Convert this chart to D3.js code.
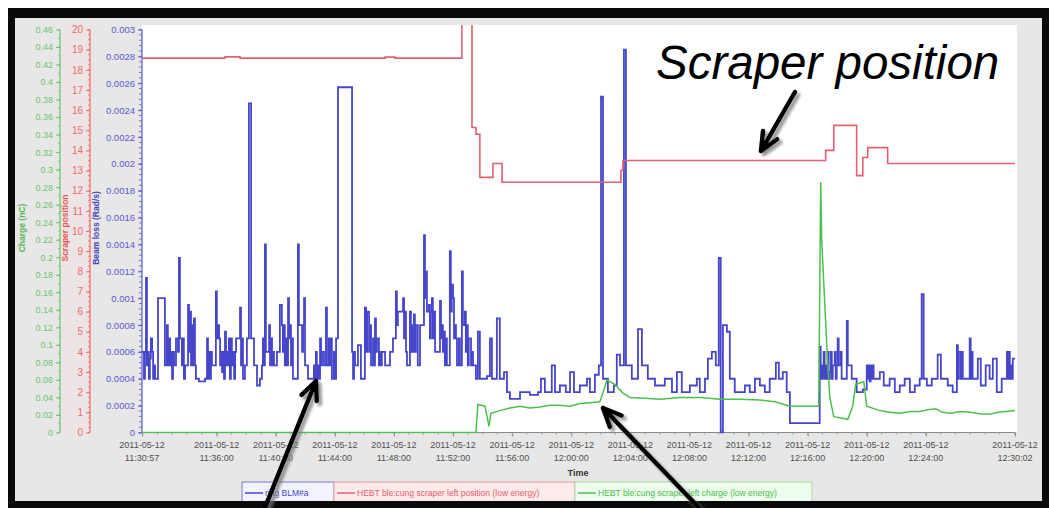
<!DOCTYPE html>
<html><head><meta charset="utf-8">
<script src="https://cdn.jsdelivr.net/npm/d3@7/dist/d3.min.js"></script>
<style>
body{margin:0;background:#fff}
svg{display:block;font-family:"Liberation Sans",Arial,sans-serif}
</style>
</head><body>
<svg id="chart" width="1049" height="508"></svg>
<script>
// ---------- DATA ----------
const startTime = "2011-05-12T11:30:57";
const endTime   = "2011-05-12T12:30:02";

// Beam loss (Rad/s): [seconds since start, value]
const beamLoss = [[0,0.0006],[8,0.0004],[12,0.0006],[16,0.00115],[20,0.0005],[24,0.0006],[28,0.0004],[32,0.00055],[36,0.0007],[41,0.0006],[45,0.0004],[49,0.0005],[53,0.0004],
[65,0.001],[93,0.0005],[101,0.0008],[105,0.0005],[109,0.0007],[114,0.0005],[118,0.0006],[122,0.0004],[126,0.0006],[130,0.0005],[138,0.0007],[146,0.0006],[150,0.0013],[154,0.0007],[162,0.0005],[166,0.0007],[170,0.0004],[175,0.0005],
[187,0.00095],[191,0.0006],[195,0.0009],[199,0.0005],[203,0.0008],[207,0.0005],[211,0.00085],[215,0.0005],[219,0.0004],[231,0.00038],[256,0.0004],[264,0.0007],[268,0.0004],[272,0.0006],[276,0.0004],[280,0.0006],[284,0.0005],
[300,0.00105],[304,0.0007],[308,0.0008],[313,0.0007],[317,0.0005],[321,0.0006],[325,0.00045],[329,0.0006],[333,0.0004],[337,0.00075],[341,0.0005],[345,0.0006],[349,0.0005],[353,0.0007],[357,0.0004],[361,0.0007],[365,0.0005],[369,0.0006],[374,0.0004],[378,0.0006],[382,0.0007],[398,0.00093],[402,0.0005],[406,0.0007],[410,0.0004],[418,0.0005],[426,0.0007],[434,0.00245],[443,0.0007],[455,0.0005],[467,0.00035],[479,0.0004],[487,0.0005],[491,0.0007],[495,0.0005],
[499,0.0014],[503,0.0006],[512,0.0006],[516,0.0008],[520,0.0005],[524,0.0007],[528,0.0005],[532,0.0006],[536,0.0005],[548,0.0006],[560,0.00095],[568,0.0008],[572,0.0006],[576,0.0008],[580,0.0005],[584,0.0007],[588,0.0005],[593,0.001],[597,0.0007],[601,0.0008],[605,0.0005],[609,0.0007],[613,0.0004],[633,0.0014],[637,0.0008],[646,0.0008],[650,0.0006],[654,0.0008],[658,0.001],[662,0.0005],[666,0.0005],[674,0.0004],[690,0.0004],[698,0.0005],[702,0.0004],[706,0.0006],[710,0.0004],[714,0.0005],[719,0.0004],[723,0.0007],[727,0.0005],[731,0.0006],[735,0.0006],[739,0.0005],[747,0.00093],[751,0.0005],[755,0.0005],[759,0.0007],[763,0.0005],[767,0.0007],[771,0.0004],[775,0.0004],[779,0.0006],[784,0.0004],[788,0.0007],
[796,0.00257],[853,0.0006],[857,0.0004],[861,0.0006],[865,0.0005],[877,0.00065],[889,0.0004],[905,0.00093],[910,0.0006],[914,0.0009],[918,0.0009],[922,0.0006],[926,0.0008],[930,0.0005],[934,0.0005],[938,0.0007],[942,0.0005],[946,0.00085],[950,0.0006],[954,0.0007],[958,0.0007],[962,0.0005],[966,0.0006],[970,0.0005],[974,0.0006],[987,0.0005],
[1007,0.0006],[1019,0.0007],[1031,0.00105],[1035,0.0008],[1039,0.0009],[1047,0.0009],[1060,0.001],[1064,0.0007],[1068,0.0009],[1072,0.0006],[1076,0.0005],[1088,0.0009],[1092,0.0006],[1096,0.0008],[1100,0.0006],[1104,0.00088],[1108,0.0006],[1112,0.0008],[1120,0.0005],[1129,0.0008],[1145,0.00147],[1149,0.001],[1153,0.0012],[1157,0.0009],[1165,0.00095],[1169,0.0007],[1173,0.0009],[1177,0.001],[1181,0.0007],[1185,0.0009],[1190,0.0006],
[1210,0.00098],[1214,0.0007],[1218,0.0008],[1222,0.0006],[1226,0.00075],[1230,0.0005],[1234,0.0007],[1238,0.0005],[1242,0.0005],[1250,0.00135],[1254,0.0009],[1258,0.0011],[1263,0.001],[1267,0.0007],[1271,0.0008],[1275,0.0007],[1279,0.0005],[1283,0.0005],[1287,0.0007],[1291,0.0005],[1299,0.0012],[1303,0.0008],[1311,0.0009],[1315,0.0006],[1319,0.0008],[1323,0.0005],[1327,0.0007],[1332,0.0007],[1336,0.0005],[1340,0.0006],[1344,0.0005],[1356,0.0004],[1364,0.00075],[1372,0.0004],
[1401,0.00042],[1413,0.0007],[1421,0.0004],[1441,0.00085],[1453,0.0004],[1470,0.00045],[1482,0.0003],[1494,0.00025],[1535,0.0003],[1575,0.00028],[1608,0.0003],[1620,0.0004],[1636,0.0003],[1664,0.0005],[1677,0.0003],[1697,0.00035],[1721,0.0003],[1738,0.00045],[1754,0.0003],[1778,0.00035],[1807,0.0004],[1819,0.0003],[1839,0.00043],[1855,0.0005],[1864,0.0025],[1872,0.0004],[1892,0.0003],[1916,0.00035],[1928,0.00058],[1941,0.0005],[1957,0.00285],[1965,0.0005],[1989,0.0004],
[2014,0.00077],[2030,0.0005],[2054,0.0004],[2083,0.00035],[2123,0.0004],[2152,0.0003],[2172,0.00045],[2192,0.0003],[2225,0.00035],[2253,0.0004],[2265,0.0003],[2286,0.0004],[2298,0.00055],[2314,0.0006],[2330,0.0005],[2342,0.0013],[2350,0],[2359,0.0008],[2375,0.00075],[2387,0.0004],[2407,0.0003],[2448,0.00035],[2468,0.0003],[2489,0.0004],[2509,0.00035],[2529,0.0003],[2549,0.0004],[2574,0.00052],[2586,0.0004],[2602,0.00045],[2618,0.0003],[2631,0.00007],
[2752,0.00064],[2756,0.0004],[2760,0.0005],[2764,0.0004],[2768,0.0006],[2772,0.0004],[2776,0.0005],[2780,0.0004],[2784,0.0006],[2788,0.0004],[2793,0.00045],[2797,0.0006],[2801,0.0004],[2805,0.0005],[2809,0.0005],[2813,0.0006],[2817,0.0004],[2821,0.0005],[2825,0.0007],[2829,0.0005],[2833,0.0005],[2837,0.0006],[2841,0.0004],[2849,0.0004],[2862,0.00083],[2866,0.0005],[2870,0.0005],[2882,0.0004],[2902,0.0003],[2927,0.00032],[2943,0.0005],[2947,0.0004],[2951,0.0005],[2955,0.00038],[2959,0.0005],[2963,0.0004],[2967,0.0005],[2971,0.0004],[2979,0.0004],[2996,0.00045],[3012,0.00035],[3036,0.0004],[3057,0.0003],[3077,0.00035],[3097,0.0004],[3118,0.0003],[3138,0.00035],[3158,0.0004],[3166,0.00103],[3174,0.0004],[3187,0.00035],[3207,0.0004],[3231,0.00058],[3244,0.0004],[3272,0.00035],[3292,0.0003],
[3309,0.00065],[3313,0.0004],[3317,0.0006],[3321,0.0006],[3325,0.0004],[3329,0.0006],[3333,0.0004],[3349,0.0004],[3361,0.0007],[3365,0.0004],[3369,0.0006],[3373,0.0004],[3394,0.00055],[3406,0.00035],[3426,0.0005],[3442,0.0004],[3455,0.00055],[3471,0.0003],[3491,0.0004],[3512,0.0006],[3516,0.0004],[3520,0.0006],[3524,0.0004],[3528,0.0005],[3532,0.0004],[3536,0.00055],[3545,0.00055]];

// Scraper position: [seconds since start, value]
const scraperPos = [[0,18.58],[337,18.64],[398,18.58],[987,18.63],[1027,18.58],[1299,20.3],[1340,15.14],[1356,14.8],[1372,12.66],[1425,13.35],[1462,12.42],[1945,13.0],[1953,13.5],[2776,14.0],[2809,15.24],[2902,12.75],[2927,13.65],[2947,14.14],[3028,13.35],[3545,13.35]];

// Charge (nC): [seconds since start, value]
const charge = [[0,0],[1356,0],[1364,0.032],[1393,0.03],[1409,0.007],[1417,0.022],[1453,0.025],[1494,0.028],[1535,0.03],[1575,0.028],[1616,0.029],[1656,0.031],[1697,0.031],[1738,0.03],[1778,0.033],[1819,0.034],[1859,0.035],[1868,0.042],[1888,0.06],[1920,0.055],[1953,0.045],[1981,0.04],[2042,0.039],[2103,0.038],[2184,0.04],[2265,0.04],[2347,0.038],[2428,0.038],[2509,0.037],[2570,0.035],[2631,0.03],[2690,0.03],[2748,0.03],[2756,0.286],[2760,0.22],[2772,0.15],[2784,0.08],[2793,0.04],[2809,0.018],[2866,0.015],[2886,0.03],[2898,0.055],[2931,0.058],[2943,0.03],[2996,0.025],[3036,0.023],[3077,0.022],[3118,0.024],[3158,0.024],[3190,0.026],[3223,0.027],[3250,0.023],[3284,0.022],[3325,0.024],[3365,0.023],[3406,0.021],[3447,0.021],[3478,0.023],[3508,0.024],[3545,0.025]];

// Ticks
const xTickTimes = ["11:30:57","11:36:00","11:40:00","11:44:00","11:48:00","11:52:00","11:56:00","12:00:00","12:04:00","12:08:00","12:12:00","12:16:00","12:20:00","12:24:00","12:30:02"];
const xTickDate = "2011-05-12";
const blueTicks = [0,0.0002,0.0004,0.0006,0.0008,0.001,0.0012,0.0014,0.0016,0.0018,0.002,0.0022,0.0024,0.0026,0.0028,0.003];
const redTicks = [0,1,2,3,4,5,6,7,8,9,10,11,12,13,14,15,16,17,18,19,20];
const greenTicks = [0,0.02,0.04,0.06,0.08,0.1,0.12,0.14,0.16,0.18,0.2,0.22,0.24,0.26,0.28,0.3,0.32,0.34,0.36,0.38,0.4,0.42,0.44,0.46];

const axisTitles = ["Charge (nC)","Scraper position","Beam loss (Rad/s)"];
const xTitle = "Time";
const legendLabels = ["ring BLM#a","HEBT ble:cung scraper left position (low energy)","HEBT ble:cung scraper left charge (low energy)"];
const annotation = "Scraper position";

// ---------- DRAW ----------
const svg = d3.select("#chart");
const BLUE = "#4646cc", RED = "#e4606e", GREEN = "#4cc04c";
const t0 = new Date(startTime), t1 = new Date(endTime);
const toDate = s => new Date(t0.getTime() + s*1000);

const plotL = 142, plotR = 1017, plotT = 25, plotB = 432.5;
const x = d3.scaleTime().domain([t0, t1]).range([142, 1015]);
const yB = d3.scaleLinear().domain([0, 0.003]).range([432.5, 29.5]);
const yR = d3.scaleLinear().domain([0, 20]).range([432.5, 29.5]);
const yG = d3.scaleLinear().domain([0, 0.46]).range([432.5, 29.5]);

const defs = svg.append("defs");
defs.append("clipPath").attr("id","plotclip").append("rect")
  .attr("x",plotL).attr("y",plotT).attr("width",plotR-plotL).attr("height",plotB-plotT+1);
const f = defs.append("filter").attr("id","shadow").attr("x","-50%").attr("y","-50%").attr("width","200%").attr("height","200%");
f.append("feDropShadow").attr("dx",3).attr("dy",3).attr("stdDeviation",1.6).attr("flood-color","#777").attr("flood-opacity",0.8);

// frame
svg.append("rect").attr("x",8).attr("y",8).attr("width",1041).attr("height",500).attr("fill","#0a0a0a");
svg.append("rect").attr("x",15).attr("y",18).attr("width",1027).attr("height",483).attr("fill","#e7e7e7");
svg.append("rect").attr("x",62).attr("y",24).attr("width",30).attr("height",412).attr("fill","#efe4e4").attr("opacity",0.7);
svg.append("rect").attr("x",plotL).attr("y",plotT).attr("width",plotR-plotL).attr("height",plotB-plotT).attr("fill","#fff");

// y axes
function yAxis(scale, ticks, xpos, color, size, fmt, minorStep, minorLen) {
  const g = svg.append("g").attr("transform",`translate(${xpos},0)`);
  const ax = d3.axisLeft(scale).tickValues(ticks).tickSize(4).tickPadding(3).tickFormat(fmt);
  g.call(ax);
  g.select(".domain").attr("stroke",color).attr("stroke-width",1.2).attr("d",`M0,${scale.range()[0]}V${scale.range()[1]}`);
  g.selectAll(".tick line").attr("stroke",color);
  g.selectAll(".tick text").attr("fill",color).attr("font-size",size).attr("font-family","Liberation Sans, Arial, sans-serif");
  const d = scale.domain();
  g.selectAll("line.minor").data(d3.range(d[0], d[1]+minorStep/2, minorStep)).join("line")
    .attr("class","minor").attr("x1",-minorLen).attr("x2",0)
    .attr("y1",v=>scale(v)).attr("y2",v=>scale(v)).attr("stroke",color).attr("stroke-width",0.8);
  return g;
}
yAxis(yG, greenTicks, 60, "#6cc46c", 9, d=>String(+d.toFixed(2)), 0.01, 2);
yAxis(yR, redTicks, 90, "#ec6a6a", 10, d=>String(d), 0.25, 2);
yAxis(yB, blueTicks, 142, "#5a5ad0", 9.5, d=>String(+d.toFixed(4)), 0.00004, 3);

// axis titles
const titleX = [25, 68, 99], titleColor = ["#5ab85a","#e85a5a","#4444bb"];
axisTitles.forEach((t,i)=>{
  svg.append("text").attr("transform",`translate(${titleX[i]},228) rotate(-90)`)
    .attr("text-anchor","middle").attr("font-size",8.5).attr("font-weight","bold")
    .attr("fill",titleColor[i]).text(t);
});

// x axis
const xg = svg.append("g").attr("transform",`translate(0,${plotB})`);
const xTicks = xTickTimes.map(s=>new Date(xTickDate+"T"+s));
xg.call(d3.axisBottom(x).tickValues(xTicks).tickSize(4).tickFormat(""));
xg.select(".domain").attr("stroke","#888").attr("d",`M${x.range()[0]},0H${x.range()[1]}`);
xg.selectAll(".tick line").attr("stroke","#888");
xg.selectAll("line.minor").data(d3.timeMinute.range(d3.timeMinute.ceil(t0), t1)).join("line")
  .attr("class","minor").attr("x1",d=>x(d)).attr("x2",d=>x(d)).attr("y1",0).attr("y2",2).attr("stroke","#999");
const lab = xg.selectAll("text.xl").data(xTicks).join("text").attr("class","xl")
  .attr("x",d=>x(d)).attr("text-anchor","middle").attr("font-size",9).attr("fill","#505050");
lab.append("tspan").attr("x",d=>x(d)).attr("y",15).text(xTickDate);
lab.append("tspan").attr("x",d=>x(d)).attr("y",28).text((d,i)=>xTickTimes[i]);
svg.append("text").attr("x",578).attr("y",476).attr("text-anchor","middle")
  .attr("font-size",9).attr("font-weight","bold").attr("fill","#333").text(xTitle);

// series
const plot = svg.append("g").attr("clip-path","url(#plotclip)");
const blueData = beamLoss.map(d=>[toDate(d[0]), d[1]]);
const redData = scraperPos.map(d=>[toDate(d[0]), d[1]]);
const greenData = charge.map(d=>[toDate(d[0]), d[1]]);
plot.append("path").datum(blueData).attr("fill","none").attr("stroke",BLUE).attr("stroke-width",1.8)
  .attr("d", d3.line().x(d=>x(d[0])).y(d=>yB(d[1])).curve(d3.curveStepAfter));
plot.append("path").datum(greenData).attr("fill","none").attr("stroke",GREEN).attr("stroke-width",1.5)
  .attr("d", d3.line().x(d=>x(d[0])).y(d=>yG(d[1])));
plot.append("path").datum(redData).attr("fill","none").attr("stroke",RED).attr("stroke-width",1.6)
  .attr("d", d3.line().x(d=>x(d[0])).y(d=>yR(d[1])).curve(d3.curveStepAfter));

// legend
const legBoxes = [[242,334,"#f3f3ff","#7a7acc",BLUE],[334,575,"#fdeaea","#e6a0a0",RED],[575,812,"#eefcee","#a6dca6",GREEN]];
legBoxes.forEach((b,i)=>{
  const g = svg.append("g");
  g.append("rect").attr("x",b[0]).attr("y",482).attr("width",b[1]-b[0]).attr("height",22)
    .attr("fill",b[2]).attr("stroke",b[3]).attr("stroke-width",1);
  g.append("line").attr("x1",b[0]+3).attr("x2",b[0]+21).attr("y1",493).attr("y2",493).attr("stroke",b[4]).attr("stroke-width",1.5);
  g.append("text").attr("x",b[0]+23).attr("y",496).attr("font-size",8.5).attr("fill",b[4]).text(legendLabels[i]);
});
// bottom black edge over legend
svg.append("rect").attr("x",8).attr("y",501).attr("width",1041).attr("height",7).attr("fill","#0a0a0a");

// annotation
svg.append("text").attr("x",656).attr("y",79).attr("font-size",47.5).attr("font-style","italic")
  .attr("fill","#000").text(annotation);

function arrow(tail, tip) {
  const dx = tip[0]-tail[0], dy = tip[1]-tail[1], L = Math.hypot(dx,dy);
  const ux = dx/L, uy = dy/L, a = 0.42, hl = 20;
  const arm = s => [tip[0] - hl*(ux*Math.cos(a) - s*uy*Math.sin(a)), tip[1] - hl*(uy*Math.cos(a) + s*ux*Math.sin(a))];
  const p1 = arm(1), p2 = arm(-1);
  svg.append("path").attr("filter","url(#shadow)").attr("fill","none").attr("stroke","#000")
    .attr("stroke-width",4.5).attr("stroke-linecap","round").attr("stroke-linejoin","round")
    .attr("d",`M${tail[0]},${tail[1]}L${tip[0]},${tip[1]}M${p1[0]},${p1[1]}L${tip[0]},${tip[1]}L${p2[0]},${p2[1]}`);
}
arrow([795,92],[761,151]);
arrow([262,515],[316,381]);
arrow([706,515],[603,408]);
</script>
</body></html>
